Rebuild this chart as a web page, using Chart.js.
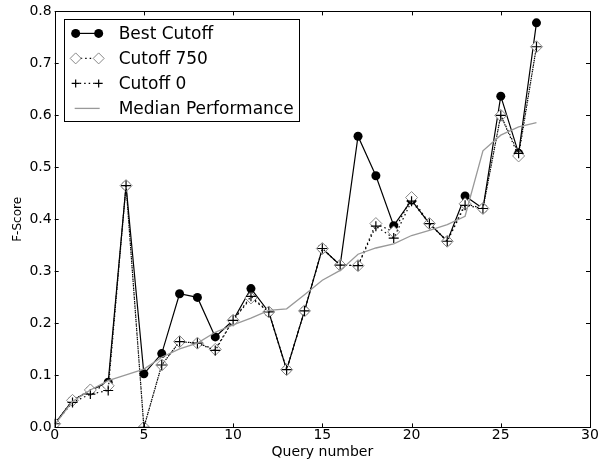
<!DOCTYPE html>
<html>
<head>
<meta charset="utf-8">
<script src="https://cdn.jsdelivr.net/npm/chart.js@4.4.1/dist/chart.umd.min.js"></script>
<style>
html,body{margin:0;padding:0;background:#fff;}
#wrap{width:600px;height:461px;}
</style>
</head>
<body>
<div id="wrap"><canvas id="c" width="600" height="461"></canvas></div>
<script>
const queries = [0,1,2,3,4,5,6,7,8,9,10,11,12,13,14,15,16,17,18,19,20,21,22,23,24,25,26,27];
const bestCutoff = [0.007,0.052,0.071,0.087,0.465,0.103,0.142,0.257,0.250,0.174,0.206,0.267,0.222,0.111,0.224,0.344,0.312,0.560,0.484,0.388,0.437,0.392,0.358,0.445,0.421,0.637,0.527,0.778];
const cutoff750 = [0.007,0.052,0.072,0.080,0.465,0.000,0.120,0.165,0.162,0.150,0.206,0.249,0.222,0.111,0.224,0.344,0.312,0.311,0.392,0.376,0.442,0.392,0.358,0.430,0.421,0.600,0.522,0.732];
const cutoff0 = [0.007,0.048,0.064,0.071,0.465,0.000,0.120,0.165,0.162,0.148,0.206,0.252,0.222,0.111,0.224,0.344,0.312,0.311,0.387,0.364,0.435,0.392,0.358,0.427,0.421,0.600,0.527,0.732];
const medianPerf = [0.005,0.050,0.072,0.090,0.101,0.112,0.135,0.151,0.162,0.183,0.197,0.210,0.225,0.228,0.255,0.283,0.302,0.333,0.345,0.353,0.369,0.379,0.390,0.406,0.532,0.562,0.578,0.586];
const xTicks = [0,5,10,15,20,25,30];
const yTicks = [0.0,0.1,0.2,0.3,0.4,0.5,0.6,0.7,0.8];
const seriesNames = ["Best Cutoff","Cutoff 750","Cutoff 0","Median Performance"];

const FONT = "'DejaVu Sans', sans-serif";
const pts = arr => arr.map((v,i)=>({x:queries[i], y:v}));

const frameTicks = {
  id:'frameTicks',
  afterDraw(chart){
    const {ctx, chartArea:a, scales:{x,y}} = chart;
    ctx.save();
    ctx.strokeStyle='#000'; ctx.lineWidth=1;
    ctx.beginPath();
    xTicks.forEach(t=>{
      const px=Math.round(x.getPixelForValue(t))+0.5;
      ctx.moveTo(px,a.bottom); ctx.lineTo(px,a.bottom-4);
      ctx.moveTo(px,a.top); ctx.lineTo(px,a.top+4);
    });
    yTicks.forEach(t=>{
      const py=Math.round(y.getPixelForValue(t))+0.5;
      ctx.moveTo(a.left,py); ctx.lineTo(a.left+4,py);
      ctx.moveTo(a.right,py); ctx.lineTo(a.right-4,py);
    });
    ctx.stroke();
    ctx.strokeRect(Math.round(a.left)+0.5, Math.round(a.top)+0.5, Math.round(a.right-a.left), Math.round(a.bottom-a.top));
    // legend
    const lx=a.left+9, ly=a.top+8, lw=235, lh=102;
    ctx.fillStyle='#fff';
    ctx.fillRect(lx,ly,lw,lh);
    ctx.strokeRect(Math.round(lx)+0.5,Math.round(ly)+0.5,lw,lh);
    const x1=lx+12, x2=lx+35, tx=lx+55;
    const rows=[ly+14, ly+39, ly+64, ly+89];
    ctx.font="17px "+FONT; ctx.textBaseline='middle'; ctx.textAlign='left';
    // row 1
    ctx.strokeStyle='#000'; ctx.lineWidth=1.2; ctx.setLineDash([]);
    ctx.beginPath(); ctx.moveTo(x1,rows[0]); ctx.lineTo(x2,rows[0]); ctx.stroke();
    ctx.fillStyle='#000';
    [x1,x2].forEach(px=>{ctx.beginPath(); ctx.arc(px,rows[0],4.5,0,Math.PI*2); ctx.fill();});
    // row 2
    ctx.setLineDash([1.5,3]);
    ctx.beginPath(); ctx.moveTo(x1+5,rows[1]); ctx.lineTo(x2-5,rows[1]); ctx.stroke();
    ctx.setLineDash([]);
    ctx.strokeStyle='#888'; ctx.lineWidth=1;
    [x1,x2].forEach(px=>{ctx.beginPath(); ctx.moveTo(px,rows[1]-5.5); ctx.lineTo(px+5.5,rows[1]); ctx.lineTo(px,rows[1]+5.5); ctx.lineTo(px-5.5,rows[1]); ctx.closePath(); ctx.stroke();});
    // row 3
    ctx.strokeStyle='#000'; ctx.lineWidth=1.2;
    ctx.setLineDash([1.5,3]);
    ctx.beginPath(); ctx.moveTo(x1+4,rows[2]); ctx.lineTo(x2-4,rows[2]); ctx.stroke();
    ctx.setLineDash([]);
    [x1,x2].forEach(px=>{ctx.beginPath(); ctx.moveTo(px-4,rows[2]); ctx.lineTo(px+4,rows[2]); ctx.moveTo(px,rows[2]-4); ctx.lineTo(px,rows[2]+4); ctx.stroke();});
    // row 4
    ctx.strokeStyle='#999'; ctx.lineWidth=1.3;
    ctx.beginPath(); ctx.moveTo(x1-1,rows[3]); ctx.lineTo(x2+1,rows[3]); ctx.stroke();
    ctx.fillStyle='#000';
    seriesNames.forEach((n,i)=>ctx.fillText(n,tx,rows[i]+1));
    ctx.restore();
  }
};

new Chart(document.getElementById('c'),{
  type:'line',
  data:{datasets:[
    {label:seriesNames[0], data:pts(bestCutoff), borderColor:'#000', borderWidth:1.2, pointStyle:'circle', pointRadius:4.5, pointBackgroundColor:'#000', pointBorderColor:'#000', pointBorderWidth:0, order:3, tension:0},
    {label:seriesNames[1], data:pts(cutoff750), borderColor:'#000', borderWidth:1.2, borderDash:[1.5,3], pointStyle:'rectRot', pointRadius:6, pointBackgroundColor:'#fff', pointBorderColor:'#888', pointBorderWidth:1, order:2, tension:0},
    {label:seriesNames[2], data:pts(cutoff0), borderColor:'#000', borderWidth:1.2, borderDash:[1.5,3], pointStyle:'cross', pointRadius:5, pointBorderColor:'#000', pointBorderWidth:1.2, order:1, tension:0},
    {label:seriesNames[3], data:pts(medianPerf), borderColor:'#999', borderWidth:1.3, pointRadius:0, order:0, tension:0}
  ]},
  options:{
    responsive:false, animation:false, devicePixelRatio:1,
    layout:{padding:{left:11,right:10,top:10,bottom:0}},
    plugins:{legend:{display:false}, tooltip:{enabled:false}},
    scales:{
      x:{type:'linear', min:0, max:30,
        afterBuildTicks(s){s.ticks=xTicks.map(v=>({value:v}));},
        grid:{display:false, drawTicks:false}, border:{display:false},
        ticks:{color:'#000', font:{family:FONT,size:14}, padding:0, maxRotation:0, callback:v=>String(v)},
        title:{display:true, text:'Query number', color:'#000', font:{family:FONT,size:14}, padding:{top:0,bottom:0}}},
      y:{type:'linear', min:0, max:0.8,
        afterBuildTicks(s){s.ticks=yTicks.map(v=>({value:v}));},
        grid:{display:false, drawTicks:false}, border:{display:false},
        ticks:{color:'#000', font:{family:FONT,size:14}, padding:3, callback:v=>v.toFixed(1)},
        title:{display:true, text:'F-Score', color:'#000', font:{family:FONT,size:12}, padding:{top:0,bottom:1}}}
    }
  },
  plugins:[frameTicks]
});
</script>
</body>
</html>
